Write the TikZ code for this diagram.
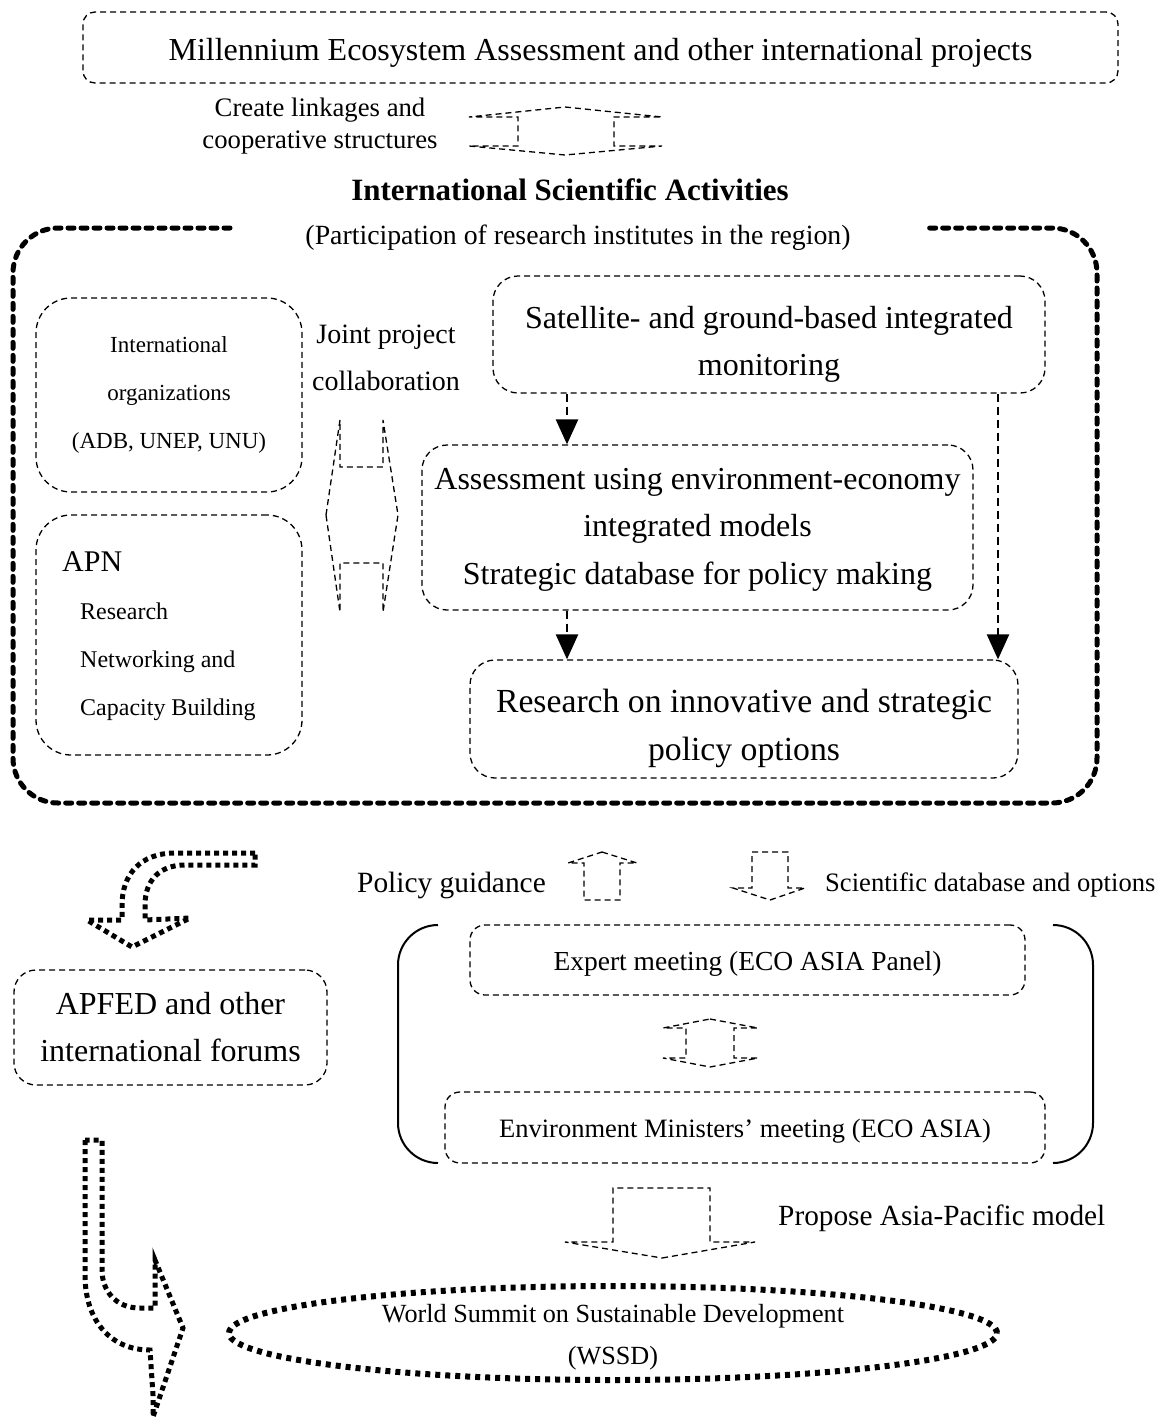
\documentclass[tikz,border=0pt]{standalone}
\usepackage{fontspec}
\setmainfont{Liberation Serif}
\usetikzlibrary{arrows.meta,shapes.geometric}
\newcommand\fsz[2]{\fontsize{#1}{#2}\selectfont}
\begin{document}
\begin{tikzpicture}[x=1pt,y=-1pt,
  every node/.style={inner sep=0pt},
  thindash/.style={line width=1.3pt, dash pattern=on 6pt off 4pt},
  dbox/.style={draw, thindash, rounded corners=#1, align=center},
  dbox/.default=20pt,
  frame/.style={line width=5pt, dash pattern=on 6pt off 7pt, line cap=round},
  dotline/.style={line width=5pt, dash pattern=on 5pt off 4pt},
  conn/.style={line width=2.5pt, dash pattern=on 8pt off 5pt, -{Triangle[length=25pt,width=22pt]}},
  blockarrow/.style={thindash, line join=miter},
  txt/.style={align=center}]
\useasboundingbox (0,0) rectangle (1165,1419);

% top
\node[dbox=12pt, minimum width=1035pt, minimum height=71pt] (mea) at (600.5,47.5) {};
\node[txt, font=\fsz{32}{38}] (meatext) at ([yshift=-5pt]mea.center) {Millennium Ecosystem Assessment and other international projects};
\node[txt, font=\fsz{26.7}{32}] (link) at (320,126) {Create linkages and\\cooperative structures};
\draw[blockarrow] (565,107) -- (662,117) -- (614,117) -- (614,146) -- (662,146) -- (565,155) -- (469,146) -- (518,146) -- (518,117) -- (469,117) -- cycle;

\node[font=\bfseries\fsz{31}{38}] (title) at (570,190) {International Scientific Activities};
\node[font=\fsz{27.8}{32}] (sub) at (578,238) {(Participation of research institutes in the region)};
\draw[frame, rounded corners=45pt] (230,228) -| (13,803) -| (1097,228) -- (928,228);

% inside frame
\node[dbox=35pt, minimum width=266pt, minimum height=194pt, font=\fsz{23}{48}] (org) at (169,395) {International\\organizations\\(ADB, UNEP, UNU)};
\node[dbox=35pt, minimum width=266pt, minimum height=240pt] (apn) at (169,635) {};
\node[anchor=west, align=left, font=\fsz{24}{48}] (apntext) at (62,636) {{\fsz{30}{48}APN}\\\hspace*{18pt}Research\\\hspace*{18pt}Networking and\\\hspace*{18pt}Capacity Building};
\node[txt, font=\fsz{28}{47}] (joint) at (386,358) {Joint project\\collaboration};
\draw[blockarrow] (326,515) -- (340,420) -- (340,467) -- (383,467) -- (383,420) -- (398,515) -- (383,612) -- (383,563) -- (340,563) -- (340,612) -- cycle;

\node[dbox=25pt, minimum width=552pt, minimum height=117pt] (sat) at (769,334.5) {};
\node[txt, font=\fsz{32}{47}] (sattext) at ([yshift=-10pt]sat.center) {Satellite- and ground-based integrated\\monitoring};
\node[dbox=25pt, minimum width=551pt, minimum height=165pt] (ass) at (697.5,527.5) {};
\node[txt, font=\fsz{32}{47.5}] (asstext) at ([yshift=-2pt]ass.center) {Assessment using environment-economy\\integrated models\\Strategic database for policy making};
\node[dbox=25pt, minimum width=548pt, minimum height=118pt] (res) at (744,719) {};
\node[txt, font=\fsz{33.7}{48}] (restext) at ([yshift=-9pt]res.center) {Research on innovative and strategic\\policy options};
\coordinate (cx1) at (567,0);
\coordinate (cx2) at (998,0);
\draw[conn] (sat.south -| cx1) -- (ass.north -| cx1);
\draw[conn] (sat.south -| cx2) -- (res.north -| cx2);
\draw[conn] (ass.south -| cx1) -- (res.north -| cx1);

% lower left
\draw[dotline] (255,853) -- (175,853) .. controls (140,853) and (122,875) .. (122,905) -- (122,920) -- (87,920) -- (132,947) -- (190,918) -- (145,920) -- (145,905) .. controls (145,880) and (160,865) .. (185,865) -- (255,865) -- cycle;
\node[dbox=22pt, minimum width=313pt, minimum height=115pt, font=\fsz{32}{47}] (apfed) at (170.5,1027.5) {APFED and other\\international forums};
\draw[dotline] (85,1140) -- (85,1275) .. controls (85,1320) and (110,1350) .. (150,1350) -- (153,1395) -- (153,1417) -- (183,1328) -- (155,1260) -- (155,1308) -- (140,1308) .. controls (115,1308) and (102,1290) .. (102,1270) -- (102,1140) -- cycle;

% lower right
\node[font=\fsz{29.4}{32}, anchor=east] (pg) at (546,885) {Policy guidance};
\draw[blockarrow] (602,852) -- (637,863) -- (620,863) -- (620,900) -- (584,900) -- (584,863) -- (568,863) -- cycle;
\draw[blockarrow] (770,900) -- (805,888) -- (788,888) -- (788,852) -- (752,852) -- (752,888) -- (733,888) -- cycle;
\node[font=\fsz{26.6}{32}, anchor=west] (sdo) at (825,885) {Scientific database and options};

\draw[line width=2pt, rounded corners=40pt] (438,925) -- (398,925) -- (398,1163) -- (438,1163);
\draw[line width=2pt, rounded corners=40pt] (1053,925) -- (1093,925) -- (1093,1163) -- (1053,1163);
\node[dbox=15pt, minimum width=555pt, minimum height=70pt] (exp) at (747.5,960) {};
\node[txt, font=\fsz{27.5}{30}] (exptext) at ([yshift=-4pt]exp.center) {Expert meeting (ECO ASIA Panel)};
\draw[blockarrow] (710,1019) -- (758,1028) -- (734,1028) -- (734,1058) -- (758,1058) -- (710,1067) -- (663,1058) -- (686,1058) -- (686,1028) -- (663,1028) -- cycle;
\node[dbox=15pt, minimum width=600pt, minimum height=71pt] (env) at (745,1127.5) {};
\node[txt, font=\fsz{26.5}{30}] (envtext) at ([yshift=-4pt]env.center) {Environment Ministers’ meeting (ECO ASIA)};

\draw[blockarrow] (662,1258) -- (755,1242) -- (710,1242) -- (710,1188) -- (613,1188) -- (613,1242) -- (565,1242) -- cycle;
\node[font=\fsz{29.3}{32}, anchor=west] (pap) at (778,1218) {Propose Asia-Pacific model};

\node[draw, ellipse, line width=6pt, dash pattern=on 5pt off 5pt, minimum width=768pt, minimum height=94pt] (wssd) at (613,1333) {};
\node[txt, font=\fsz{26.2}{42}] (wssdtext) at ([yshift=-4pt]wssd.center) {World Summit on Sustainable Development\\(WSSD)};
\end{tikzpicture}
\end{document}
